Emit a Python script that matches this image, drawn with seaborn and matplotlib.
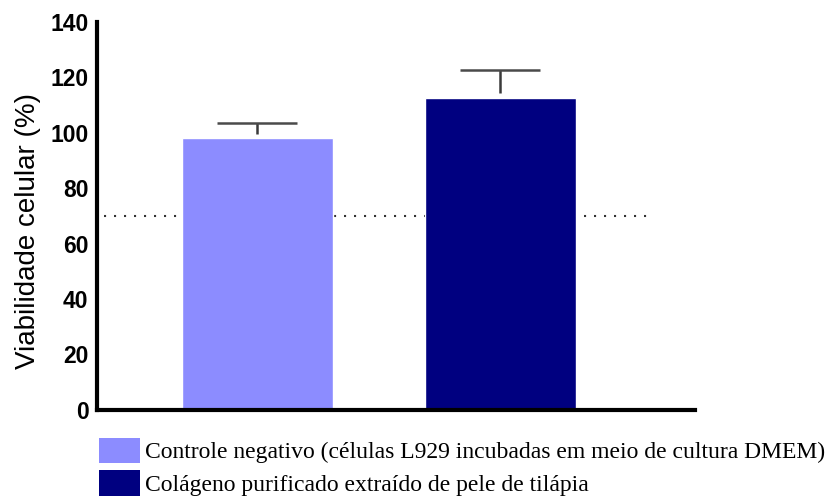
import seaborn as sns
import matplotlib.pyplot as plt
import pandas as pd
from matplotlib.patches import Patch

# values
groups = ['Controle negativo (células L929 incubadas em meio de cultura DMEM)',
          'Colágeno purificado extraído de pele de tilápia']
viabilidade = [98.2, 112.7]
desvio = [5.4, 10.0]
cores = ['#8c8cff', '#000080']
limite = 70

df = pd.DataFrame({'grupo': groups, 'viab': viabilidade})

sns.set_style('white')
plt.rcParams['font.family'] = ['Liberation Sans', 'DejaVu Sans']
plt.rcParams['text.color'] = 'black'
plt.rcParams['axes.labelcolor'] = 'black'
plt.rcParams['ytick.color'] = 'black'

fig = plt.figure(figsize=(8.27, 4.98), dpi=100)
ax = fig.add_axes([0.117, 0.177, 0.723, 0.779])

# dotted 70% reference line, drawn under the bars
ax.plot([-0.63, 1.63], [limite, limite], ls=(0, (1, 3.8)), color='#333333', lw=1.5, zorder=0)

sns.barplot(data=df, x='grupo', y='viab', hue='grupo', palette=cores, saturation=1,
            width=0.62, errorbar=None, legend=False, ax=ax, zorder=2)

# upward-only error bars (stem + cap)
xs = list(range(len(groups)))
topo = [v + d for v, d in zip(viabilidade, desvio)]
ax.vlines(xs, [v + 1.5 for v in viabilidade], topo, color='#3a3a3a', lw=1.8, zorder=1)
ax.hlines(topo, [x - 0.165 for x in xs], [x + 0.165 for x in xs], color='#4a4a4a', lw=1.8, zorder=1)

ax.set_xlim(-0.66, 1.80)
ax.set_ylim(0, 140)
ax.set_yticks(range(0, 141, 20))
ax.set_xticks([])
ax.set_xlabel('')
ax.set_ylabel('Viabilidade celular (%)', fontsize=20)
ax.yaxis.set_label_coords(-0.094, 0.46)
ax.tick_params(axis='y', length=0, pad=6, labelsize=16.5)
for t in ax.get_yticklabels():
    t.set_fontweight('bold')
sns.despine(ax=ax)
for s in ['left', 'bottom']:
    ax.spines[s].set_linewidth(3)
    ax.spines[s].set_color('black')

handles = [Patch(facecolor=c, edgecolor='none') for c in cores]
fig.legend(handles, groups, loc='lower left', bbox_to_anchor=(0.12, 0.004),
           frameon=False, borderpad=0, borderaxespad=0,
           prop={'family': 'Liberation Serif', 'size': 17},
           handlelength=1.74, handleheight=1.27, handletextpad=0.2, labelspacing=0.3)

fig.savefig('out.png', dpi=100)
